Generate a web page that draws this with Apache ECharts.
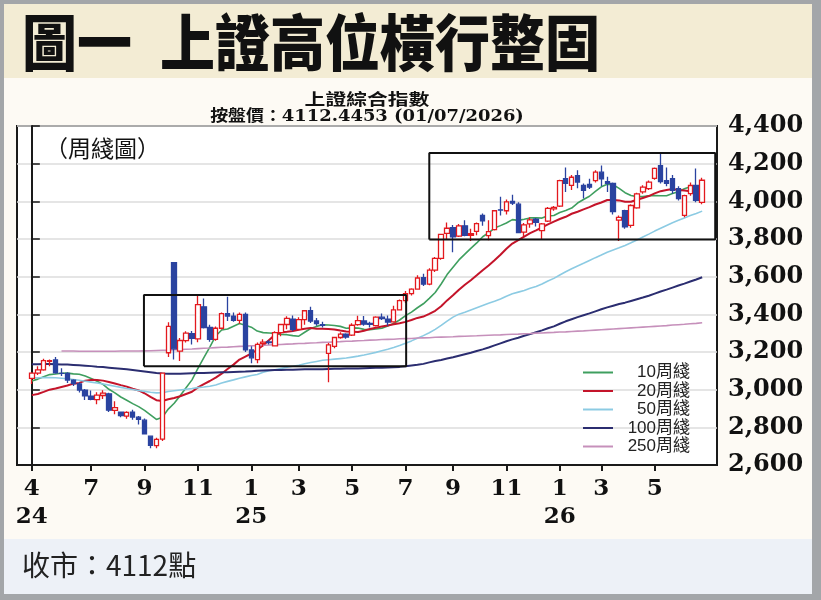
<!DOCTYPE html>
<html>
<head>
<meta charset="utf-8">
<script src="https://cdn.jsdelivr.net/npm/echarts/dist/echarts.min.js"></script>
<style>
html,body{margin:0;padding:0;background:#a3a6a9;width:821px;height:600px;overflow:hidden;}
.bg{position:absolute;}
#c{position:absolute;left:0;top:0;width:821px;height:600px;}
</style>
</head>
<body>
<div class="bg" style="left:4px;top:4px;width:808px;height:74px;background:#f3ecd4;"></div>
<div class="bg" style="left:4px;top:78px;width:808px;height:461px;background:#fdfaf4;"></div>
<div class="bg" style="left:4px;top:539px;width:808px;height:55px;background:#edf1f7;"></div>
<div id="c"></div>
<script>
// ---- weekly candles (Apr 2024 – Jul 2026) ----
const opens = [3060,3088,3105,3150,3158,3087,3086,3050,3030,2997,
 2965,2947,2969,2978,2890,2880,2860,2880,2854,2838,
 2753,2703,2737,3196,3674,3205,3260,3298,3270,3440,
 3330,3267,3326,3404,3391,3368,3400,3211,3160,3245,
 3253,3233,3303,3346,3375,3320,3372,3420,3365,3345,
 3193,3230,3277,3295,3290,3345,3365,3352,3340,3385,
 3375,3360,3424,3473,3510,3534,3595,3560,3635,3697,
 3830,3860,3815,3870,3820,3840,3925,3818,3850,3955,
 3950,4000,3985,3836,3880,3905,3845,3895,3960,3975,
 4120,4085,4137,4085,4090,4110,4155,4105,4095,3900,
 3950,3872,3965,4050,4068,4122,4190,4110,4120,4068,
 3925,4041,4084,3995];
const closes = [3088,3105,3154,3154,3089,3086,3051,3032,2998,2967,
 2949,2971,2982,2891,2905,2862,2879,2855,2842,2765,
 2704,2736,3088,3336,3217,3261,3300,3272,3452,3330,
 3267,3326,3404,3391,3368,3400,3211,3169,3241,3252,
 3250,3303,3346,3379,3320,3372,3419,3364,3351,3342,
 3238,3277,3295,3279,3342,3367,3348,3347,3385,3377,
 3359,3424,3473,3510,3534,3593,3560,3635,3697,3825,
 3857,3812,3870,3820,3828,3882,3897,3839,3950,3954,
 3997,3990,3834,3875,3902,3889,3880,3963,3968,4110,
 4095,4128,4102,4058,4075,4155,4120,4095,3945,3915,
 3865,3978,4040,4075,4102,4175,4105,4095,4058,4015,
 4030,4084,4005,4112];
const lows = [3030,3078,3100,3125,3085,3072,3036,3020,2985,2945,
 2944,2922,2950,2881,2870,2853,2846,2840,2815,2763,
 2689,2689,2727,3174,3160,3152,3250,3240,3252,3325,
 3255,3260,3320,3365,3360,3350,3200,3140,3140,3227,
 3240,3230,3283,3321,3310,3315,3345,3354,3340,3330,
 3040,3220,3270,3270,3285,3340,3340,3330,3335,3370,
 3340,3355,3420,3460,3500,3530,3550,3555,3625,3690,
 3800,3730,3810,3815,3790,3820,3870,3793,3845,3925,
 3930,3980,3830,3815,3860,3866,3800,3890,3950,3970,
 4050,4060,4070,4015,4065,4100,4080,4050,3930,3790,
 3855,3860,3960,4040,4060,4115,4095,4080,4040,4005,
 3915,4030,3995,3985];
const highs = [3092,3124,3164,3160,3174,3114,3092,3055,3040,3004,
 2996,2986,2997,2983,2938,2884,2886,2893,2860,2847,
 2756,2745,3088,3358,3674,3275,3310,3312,3500,3484,
 3345,3335,3410,3494,3410,3410,3410,3230,3250,3268,
 3263,3310,3350,3390,3394,3384,3422,3440,3380,3361,
 3248,3280,3305,3300,3352,3392,3391,3360,3390,3404,
 3394,3445,3479,3524,3538,3608,3615,3645,3704,3826,
 3888,3875,3880,3899,3855,3888,3936,3900,3952,4025,
 4010,4035,3995,3885,3915,3912,3885,3970,3975,4115,
 4180,4140,4165,4095,4120,4165,4190,4130,4100,3925,
 3955,3985,4045,4085,4110,4180,4260,4180,4140,4080,
 4035,4100,4175,4125];

// ---- moving averages ----
const ma10 = [3046,3056,3069,3080,3083,3087,3088,3084,3082,3072,
 3059,3045,3028,3002,2983,2961,2944,2926,2910,2890,
 2866,2842,2853,2897,2928,2968,3010,3052,3113,3170,
 3226,3285,3317,3322,3337,3351,3342,3332,3311,3303,
 3301,3299,3293,3292,3287,3284,3305,3325,3336,3345,
 3343,3341,3336,3326,3328,3327,3320,3319,3322,3326,
 3338,3352,3370,3393,3412,3435,3456,3485,3516,3561,
 3611,3650,3689,3720,3750,3779,3812,3833,3858,3871,
 3885,3903,3899,3905,3912,3913,3911,3923,3925,3941,
 3951,3964,3991,4010,4027,4053,4077,4091,4088,4069,
 4046,4031,4025,4026,4029,4031,4030,4030,4041,4051,
 4067,4078,4074,4078];
const ma20 = [2971,2977,2988,3000,3006,3014,3022,3032,3036,3048,
 3052,3051,3048,3041,3033,3024,3016,3005,2996,2981,
 2962,2944,2940,2949,2956,2965,2977,2989,3012,3030,
 3046,3064,3085,3110,3133,3160,3176,3192,3212,3236,
 3264,3292,3305,3307,3312,3318,3324,3328,3323,3324,
 3322,3320,3314,3309,3308,3306,3313,3322,3329,3335,
 3341,3347,3353,3360,3370,3381,3388,3402,3419,3443,
 3474,3501,3530,3557,3581,3607,3634,3659,3687,3716,
 3748,3776,3794,3813,3831,3846,3862,3878,3892,3906,
 3918,3934,3945,3957,3969,3983,3994,4007,4007,4005,
 3998,3998,4008,4018,4028,4042,4054,4060,4065,4060,
 4057,4054,4050,4052];
const ma50 = [3062,3063,3064,3064,3063,3061,3058,3054,3050,3045,
 3040,3035,3030,3024,3018,3012,3006,3001,2996,2991,
 2986,2983,2984,2990,2994,2998,3002,3006,3011,3014,
 3018,3025,3035,3044,3052,3061,3068,3075,3081,3092,
 3100,3105,3112,3119,3124,3130,3138,3144,3150,3156,
 3159,3162,3165,3168,3173,3178,3184,3191,3198,3207,
 3215,3224,3234,3246,3259,3273,3287,3302,3320,3341,
 3364,3385,3401,3411,3423,3435,3447,3459,3469,3481,
 3496,3509,3518,3527,3538,3548,3561,3577,3591,3609,
 3626,3642,3657,3671,3686,3701,3715,3730,3742,3753,
 3766,3780,3795,3811,3826,3842,3857,3872,3886,3899,
 3912,3925,3936,3948];
const ma100 = [3135,3135,3136,3136,3135,3134,3133,3131,3129,3127,
 3125,3122,3120,3117,3114,3111,3108,3104,3100,3096,
 3092,3088,3086,3085,3085,3085,3086,3087,3088,3089,
 3090,3091,3092,3093,3094,3095,3096,3098,3100,3102,
 3103,3104,3105,3106,3106,3107,3108,3108,3109,3109,
 3110,3111,3111,3112,3112,3113,3114,3115,3116,3117,
 3118,3119,3121,3124,3128,3132,3137,3145,3152,3158,
 3165,3172,3180,3188,3196,3205,3214,3224,3235,3246,
 3257,3267,3276,3286,3295,3305,3315,3326,3336,3350,
 3363,3374,3385,3395,3405,3416,3427,3437,3446,3455,
 3462,3471,3480,3489,3499,3510,3521,3531,3542,3553,
 3563,3574,3585,3597];
const ma250 = [null,null,null,null,null,3205,3205,3205,3204,3204,
 3204,3204,3204,3204,3204,3205,3205,3205,3205,3206,
 3207,3208,3209,3210,3212,3213,3215,3216,3218,3220,
 3221,3223,3225,3226,3228,3230,3231,3233,3234,3236,
 3237,3239,3240,3242,3243,3245,3246,3248,3249,3251,
 3252,3254,3255,3257,3258,3260,3261,3263,3264,3266,
 3267,3268,3270,3271,3272,3274,3275,3276,3278,3279,
 3280,3281,3283,3284,3285,3286,3288,3289,3290,3291,
 3293,3294,3295,3297,3298,3300,3301,3303,3304,3306,
 3307,3309,3311,3312,3314,3316,3318,3320,3322,3324,
 3326,3328,3330,3332,3334,3336,3338,3340,3343,3345,
 3347,3350,3352,3355];

const maNames = ['10周綫','20周綫','50周綫','100周綫','250周綫'];
const maColors = ['#3f9f5f','#c4142a','#8ccbe3','#2b2d70','#c690bb'];
const maWidths = [1.6, 2, 1.6, 2, 1.6];

// ---- x tick labels: [candle index, month, year] ----
const monthTicks = [[0,'4','24'],[10,'7'],[19,'9'],[28,'11'],[37,'1','25'],[45,'3'],[54,'5'],
 [63,'7'],[71,'9'],[80,'11'],[89,'1','26'],[96,'3'],[105,'5']];

// ---- y tick labels ----
const yMin = 2600, yMax = 4400, yStep = 200;

// ---- highlighted consolidation boxes (candle index, price) ----
const boxes = [
 {from: 18.9, to: 63.1, low: 3124, high: 3502},
 {from: 67.0, to: 115.2, low: 3797, high: 4257}
];

const PAD_L = 2, PAD_R = 2;
const N = closes.length;
const cats = [];
for (let k = 0; k < N + PAD_L + PAD_R; k++) cats.push(String(k - PAD_L));
function pad(arr) {
  const out = [];
  for (let k = 0; k < PAD_L; k++) out.push('-');
  arr.forEach(v => out.push(v == null ? '-' : v));
  for (let k = 0; k < PAD_R; k++) out.push('-');
  return out;
}
const tickMap = {};
monthTicks.forEach(t => { tickMap[t[0] + PAD_L] = t[2] ? t[1] + '\n' + t[2] : t[1]; });
const tickInterval = (idx) => tickMap[idx] !== undefined;

const candleData = pad(opens.map((o, i) => [o, closes[i], lows[i], highs[i]]));
const maData = [ma10, ma20, ma50, ma100, ma250];

const series = [];
maNames.forEach((n, j) => {
  series.push({
    name: n, type: 'line', data: pad(maData[j]), xAxisIndex: 0, yAxisIndex: 0,
    showSymbol: false, symbol: 'none', silent: true, z: 2,
    color: maColors[j],
    lineStyle: {color: maColors[j], width: maWidths[j]}
  });
});
series.push({
  name: '上證綜合指數', type: 'candlestick', data: candleData, z: 3,
  barWidth: 5, silent: true,
  itemStyle: {color: '#ffffff', color0: '#2a43a0', borderColor: '#e3191e', borderColor0: '#2a43a0', borderWidth: 1.3}
});
boxes.forEach((b, j) => {
  series.push({
    name: 'box' + j, type: 'line', xAxisIndex: 1, yAxisIndex: 0, silent: true, z: 4,
    symbol: 'none', showSymbol: false,
    lineStyle: {color: '#111111', width: 2},
    data: [[b.from, b.low], [b.to, b.low], [b.to, b.high], [b.from, b.high], [b.from, b.low]]
  });
});

const cjk = '"Noto Sans CJK TC","Noto Sans CJK SC",sans-serif';
const serifNum = '"DejaVu Serif","Noto Sans CJK TC",serif';

const chart = echarts.init(document.getElementById('c'), null, {renderer: 'canvas', width: 821, height: 600});
chart.setOption({
  backgroundColor: 'transparent',
  animation: false,
  grid: {left: 17, right: 104, top: 126, bottom: 135, show: true, backgroundColor: '#ffffff', borderColor: '#1a1a1a', borderWidth: 2},
  legend: {
    orient: 'vertical', left: 578, top: 359, itemWidth: 30, itemHeight: 2, itemGap: 1.5, icon: 'rect',
    data: maNames, selectedMode: false,
    formatter: n => '{t|' + n + '}',
    textStyle: {rich: {t: {width: 72, align: 'right', fontSize: 17, lineHeight: 17, color: '#222', fontFamily: '"Liberation Sans","Noto Sans CJK TC",sans-serif'}}}
  },
  xAxis: [{
    type: 'category', data: cats, boundaryGap: true,
    axisLine: {show: true, lineStyle: {color: '#1a1a1a', width: 2}},
    axisTick: {show: true, interval: tickInterval, alignWithLabel: true, length: 6, lineStyle: {color: '#1a1a1a', width: 2}},
    axisLabel: {interval: tickInterval, formatter: (v, idx) => tickMap[idx] || '', fontFamily: serifNum, fontWeight: 'bold', fontSize: 23, color: '#111', lineHeight: 28, margin: 10},
    splitLine: {show: false}
  }, {
    type: 'value', min: -2.5, max: N - 1 + PAD_R + 0.5, show: false
  }],
  yAxis: {
    type: 'value', position: 'right', min: yMin, max: yMax, interval: yStep,
    axisLine: {show: true, lineStyle: {color: '#1a1a1a', width: 2}},
    axisTick: {show: true, length: 8, lineStyle: {color: '#1a1a1a', width: 1.5}},
    axisLabel: {formatter: v => v.toLocaleString('en-US'), fontFamily: serifNum, fontWeight: 'bold', fontSize: 24, color: '#111', margin: 11, verticalAlign: 'middle', padding: [0, 0, 12, 0]},
    splitLine: {show: true, lineStyle: {color: '#dddddd', width: 1.5}}
  },
  graphic: [
    {type: 'text', x: 22, y: 43, scaleY: 1.12, style: {text: '圖一', fontFamily: cjk, fontWeight: 900, fontSize: 55, fill: '#111', align: 'left', verticalAlign: 'middle'}},
    {type: 'text', x: 160, y: 43, scaleY: 1.12, style: {text: '上證高位橫行整固', fontFamily: cjk, fontWeight: 900, fontSize: 55, fill: '#111', align: 'left', verticalAlign: 'middle'}},
    {type: 'text', x: 367, y: 99, scaleX: 1.3, style: {text: '上證綜合指數', fontFamily: cjk, fontWeight: 'bold', fontSize: 16, fill: '#111', align: 'center', verticalAlign: 'middle'}},
    {type: 'text', x: 367, y: 117, scaleX: 1.12, style: {text: '按盤價：4112.4453 (01/07/2026)', fontFamily: serifNum, fontWeight: 'bold', fontSize: 16, fill: '#111', align: 'center', verticalAlign: 'middle'}},
    {type: 'text', x: 45, y: 148, style: {text: '（周綫圖）', fontFamily: cjk, fontSize: 23, fill: '#111', align: 'left', verticalAlign: 'middle'}},
    {type: 'text', x: 22, y: 565, style: {text: '收市：4112點', fontFamily: cjk, fontSize: 28, fill: '#222', align: 'left', verticalAlign: 'middle'}}
  ],
  series: series
});
</script>
</body>
</html>
